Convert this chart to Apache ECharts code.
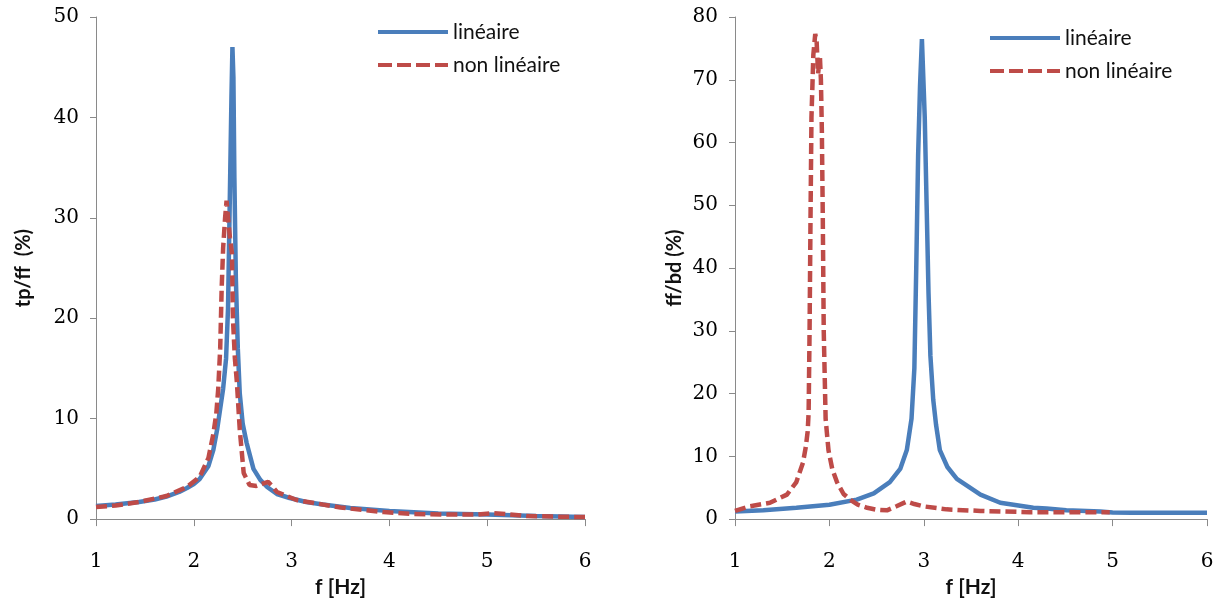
<!DOCTYPE html>
<html>
<head>
<meta charset="utf-8">
<script src="https://cdn.jsdelivr.net/npm/echarts@6/dist/echarts.min.js"></script>
<style>
  html, body { margin: 0; padding: 0; background: #fff; }
  #chart { width: 1220px; height: 603px; }
</style>
</head>
<body>
<div id="chart"></div>
<script>
// left panel: tp/ff
var fLinL = [1.0, 1.2, 1.44, 1.6, 1.72, 1.85, 1.93, 2.0, 2.06, 2.15, 2.2, 2.24, 2.27, 2.30, 2.33, 2.35, 2.37, 2.385, 2.395, 2.405, 2.415, 2.43, 2.45, 2.47, 2.50, 2.54, 2.61, 2.68, 2.75, 2.85, 2.98, 3.15, 3.32, 3.6, 4.0, 4.5, 5.0, 5.5, 6.0];
var yLinL = [1.3, 1.45, 1.7, 1.95, 2.25, 2.7, 3.1, 3.5, 4.0, 5.3, 6.9, 9.0, 11, 13, 16, 21, 33, 42, 47, 44, 34, 24, 17, 12.5, 9.5, 7.6, 5.0, 3.9, 3.2, 2.5, 2.1, 1.7, 1.45, 1.1, 0.8, 0.55, 0.45, 0.3, 0.2];
var fNonL = [1.0, 1.2, 1.44, 1.72, 1.93, 2.06, 2.15, 2.2, 2.23, 2.25, 2.27, 2.285, 2.30, 2.32, 2.335, 2.35, 2.37, 2.39, 2.40, 2.42, 2.44, 2.47, 2.51, 2.57, 2.64, 2.70, 2.76, 2.80, 2.85, 3.05, 3.5, 3.94, 4.25, 4.6, 4.9, 5.06, 5.2, 5.4, 6.0];
var yNonL = [1.2, 1.35, 1.7, 2.3, 3.2, 4.2, 6.1, 8.5, 10.5, 13, 17, 23, 27, 30, 31.7, 30, 28, 26.5, 20, 16, 13.7, 8.9, 4.6, 3.4, 3.3, 3.5, 3.7, 3.3, 2.7, 1.9, 1.15, 0.7, 0.5, 0.45, 0.45, 0.6, 0.5, 0.3, 0.2];

// right panel: ff/bd
var fLinR = [1.0, 1.3, 1.65, 2.0, 2.29, 2.47, 2.64, 2.75, 2.82, 2.87, 2.90, 2.92, 2.94, 2.96, 2.98, 3.01, 3.03, 3.05, 3.07, 3.10, 3.13, 3.17, 3.25, 3.35, 3.6, 3.81, 3.95, 4.16, 4.3, 4.51, 4.87, 5.0, 5.2, 6.0];
var yLinR = [1.2, 1.4, 1.8, 2.3, 3.1, 4.1, 5.9, 8, 11, 16, 24, 40, 58, 69, 76.5, 64, 50, 36, 26, 19, 15, 11, 8.3, 6.4, 3.9, 2.6, 2.3, 1.8, 1.7, 1.4, 1.2, 1.05, 1.0, 1.0];
var fNonR = [1.0, 1.16, 1.37, 1.55, 1.65, 1.72, 1.75, 1.77, 1.78, 1.79, 1.80, 1.81, 1.83, 1.85, 1.865, 1.88, 1.90, 1.91, 1.92, 1.93, 1.94, 1.96, 1.99, 2.03, 2.08, 2.15, 2.22, 2.3, 2.4, 2.5, 2.61, 2.71, 2.82, 2.9, 2.99, 3.24, 3.6, 4.12, 4.5, 4.97];
var yNonR = [1.3, 2.05, 2.6, 3.9, 5.9, 9.0, 11.5, 14, 17, 30, 48, 64, 74, 77.3, 76, 71, 73.5, 70, 62, 48, 30, 16, 11, 8, 5.9, 4, 3.1, 2.3, 1.8, 1.5, 1.4, 2.05, 2.8, 2.4, 2.05, 1.55, 1.3, 1.1, 1.1, 1.1];

var names = ['linéaire', 'non linéaire'];
var xName = 'f [Hz]';
var yNames = ['tp/ff  (%)', 'ff/bd (%)'];
var yMax = [50, 80];

var blue = '#4a7ebb';
var red = '#be4b48';
var axisGray = '#8a8a8a';
var numFont = 'DejaVu Serif';
var txtFont = 'Lato';

// legend icons drawn as paths: a solid bar and four dashes
var solidIcon = 'path://M0,0h70v4h-70z';
var dashIcon = 'path://M0,0h14v4h-14z M19,0h14v4h-14z M38,0h14v4h-14z M57,0h13v4h-13z';

function pairs(xs, ys) {
  return xs.map(function(x, i) { return [x, ys[i]]; });
}

function xAx(i) {
  return {
    type: 'value', gridIndex: i, min: 1, max: 6, interval: 1,
    name: xName, nameLocation: 'middle', nameGap: 41,
    nameTextStyle: { color: '#111', fontSize: 21, fontWeight: 'bold', fontFamily: txtFont },
    axisLine: { lineStyle: { color: axisGray, width: 1 } },
    axisTick: { show: true, length: 7, lineStyle: { color: axisGray } },
    splitLine: { show: false },
    axisLabel: { color: '#000', fontSize: 20, fontFamily: numFont, margin: 33 }
  };
}

function yAx(i, gap) {
  return {
    type: 'value', gridIndex: i, min: 0, max: yMax[i], interval: 10,
    name: yNames[i], nameLocation: 'middle', nameGap: gap,
    nameTextStyle: { color: '#111', fontSize: 20, fontWeight: 'bold', fontFamily: txtFont },
    axisLine: { show: true, lineStyle: { color: axisGray, width: 1 } },
    axisTick: { show: true, length: 6, lineStyle: { color: axisGray } },
    splitLine: { show: false },
    axisLabel: { color: '#000', fontSize: 20, fontFamily: numFont, margin: 17 }
  };
}

function line(name, i, data, color, dashed) {
  return {
    type: 'line', name: name, xAxisIndex: i, yAxisIndex: i,
    data: data, symbol: 'none', showSymbol: false, smooth: false,
    lineStyle: { color: color, width: 4.5, type: dashed ? [11, 5] : 'solid' },
    itemStyle: { color: color },
    z: dashed ? 3 : 2
  };
}

function leg(left, top) {
  return {
    left: left, top: top, orient: 'vertical',
    itemWidth: 70, itemHeight: 5, itemGap: 9,
    data: [
      { name: names[0], icon: solidIcon, itemStyle: { color: blue } },
      { name: names[1], icon: dashIcon, itemStyle: { color: red } }
    ],
    textStyle: { color: '#111', fontSize: 21, fontFamily: txtFont, lineHeight: 24 }
  };
}

var chart = echarts.init(document.getElementById('chart'), null, { renderer: 'canvas' });
chart.setOption({
  animation: false,
  backgroundColor: '#fff',
  legend: [leg(373, 15), leg(985, 21)],
  grid: [
    { left: 96, right: 635, top: 17, bottom: 68 },
    { left: 735, right: 13, top: 17, bottom: 68 }
  ],
  xAxis: [xAx(0), xAx(1)],
  yAxis: [yAx(0, 62), yAx(1, 50)],
  series: [
    line(names[0], 0, pairs(fLinL, yLinL), blue, false),
    line(names[1], 0, pairs(fNonL, yNonL), red, true),
    line(names[0], 1, pairs(fLinR, yLinR), blue, false),
    line(names[1], 1, pairs(fNonR, yNonR), red, true)
  ]
});
</script>
</body>
</html>
